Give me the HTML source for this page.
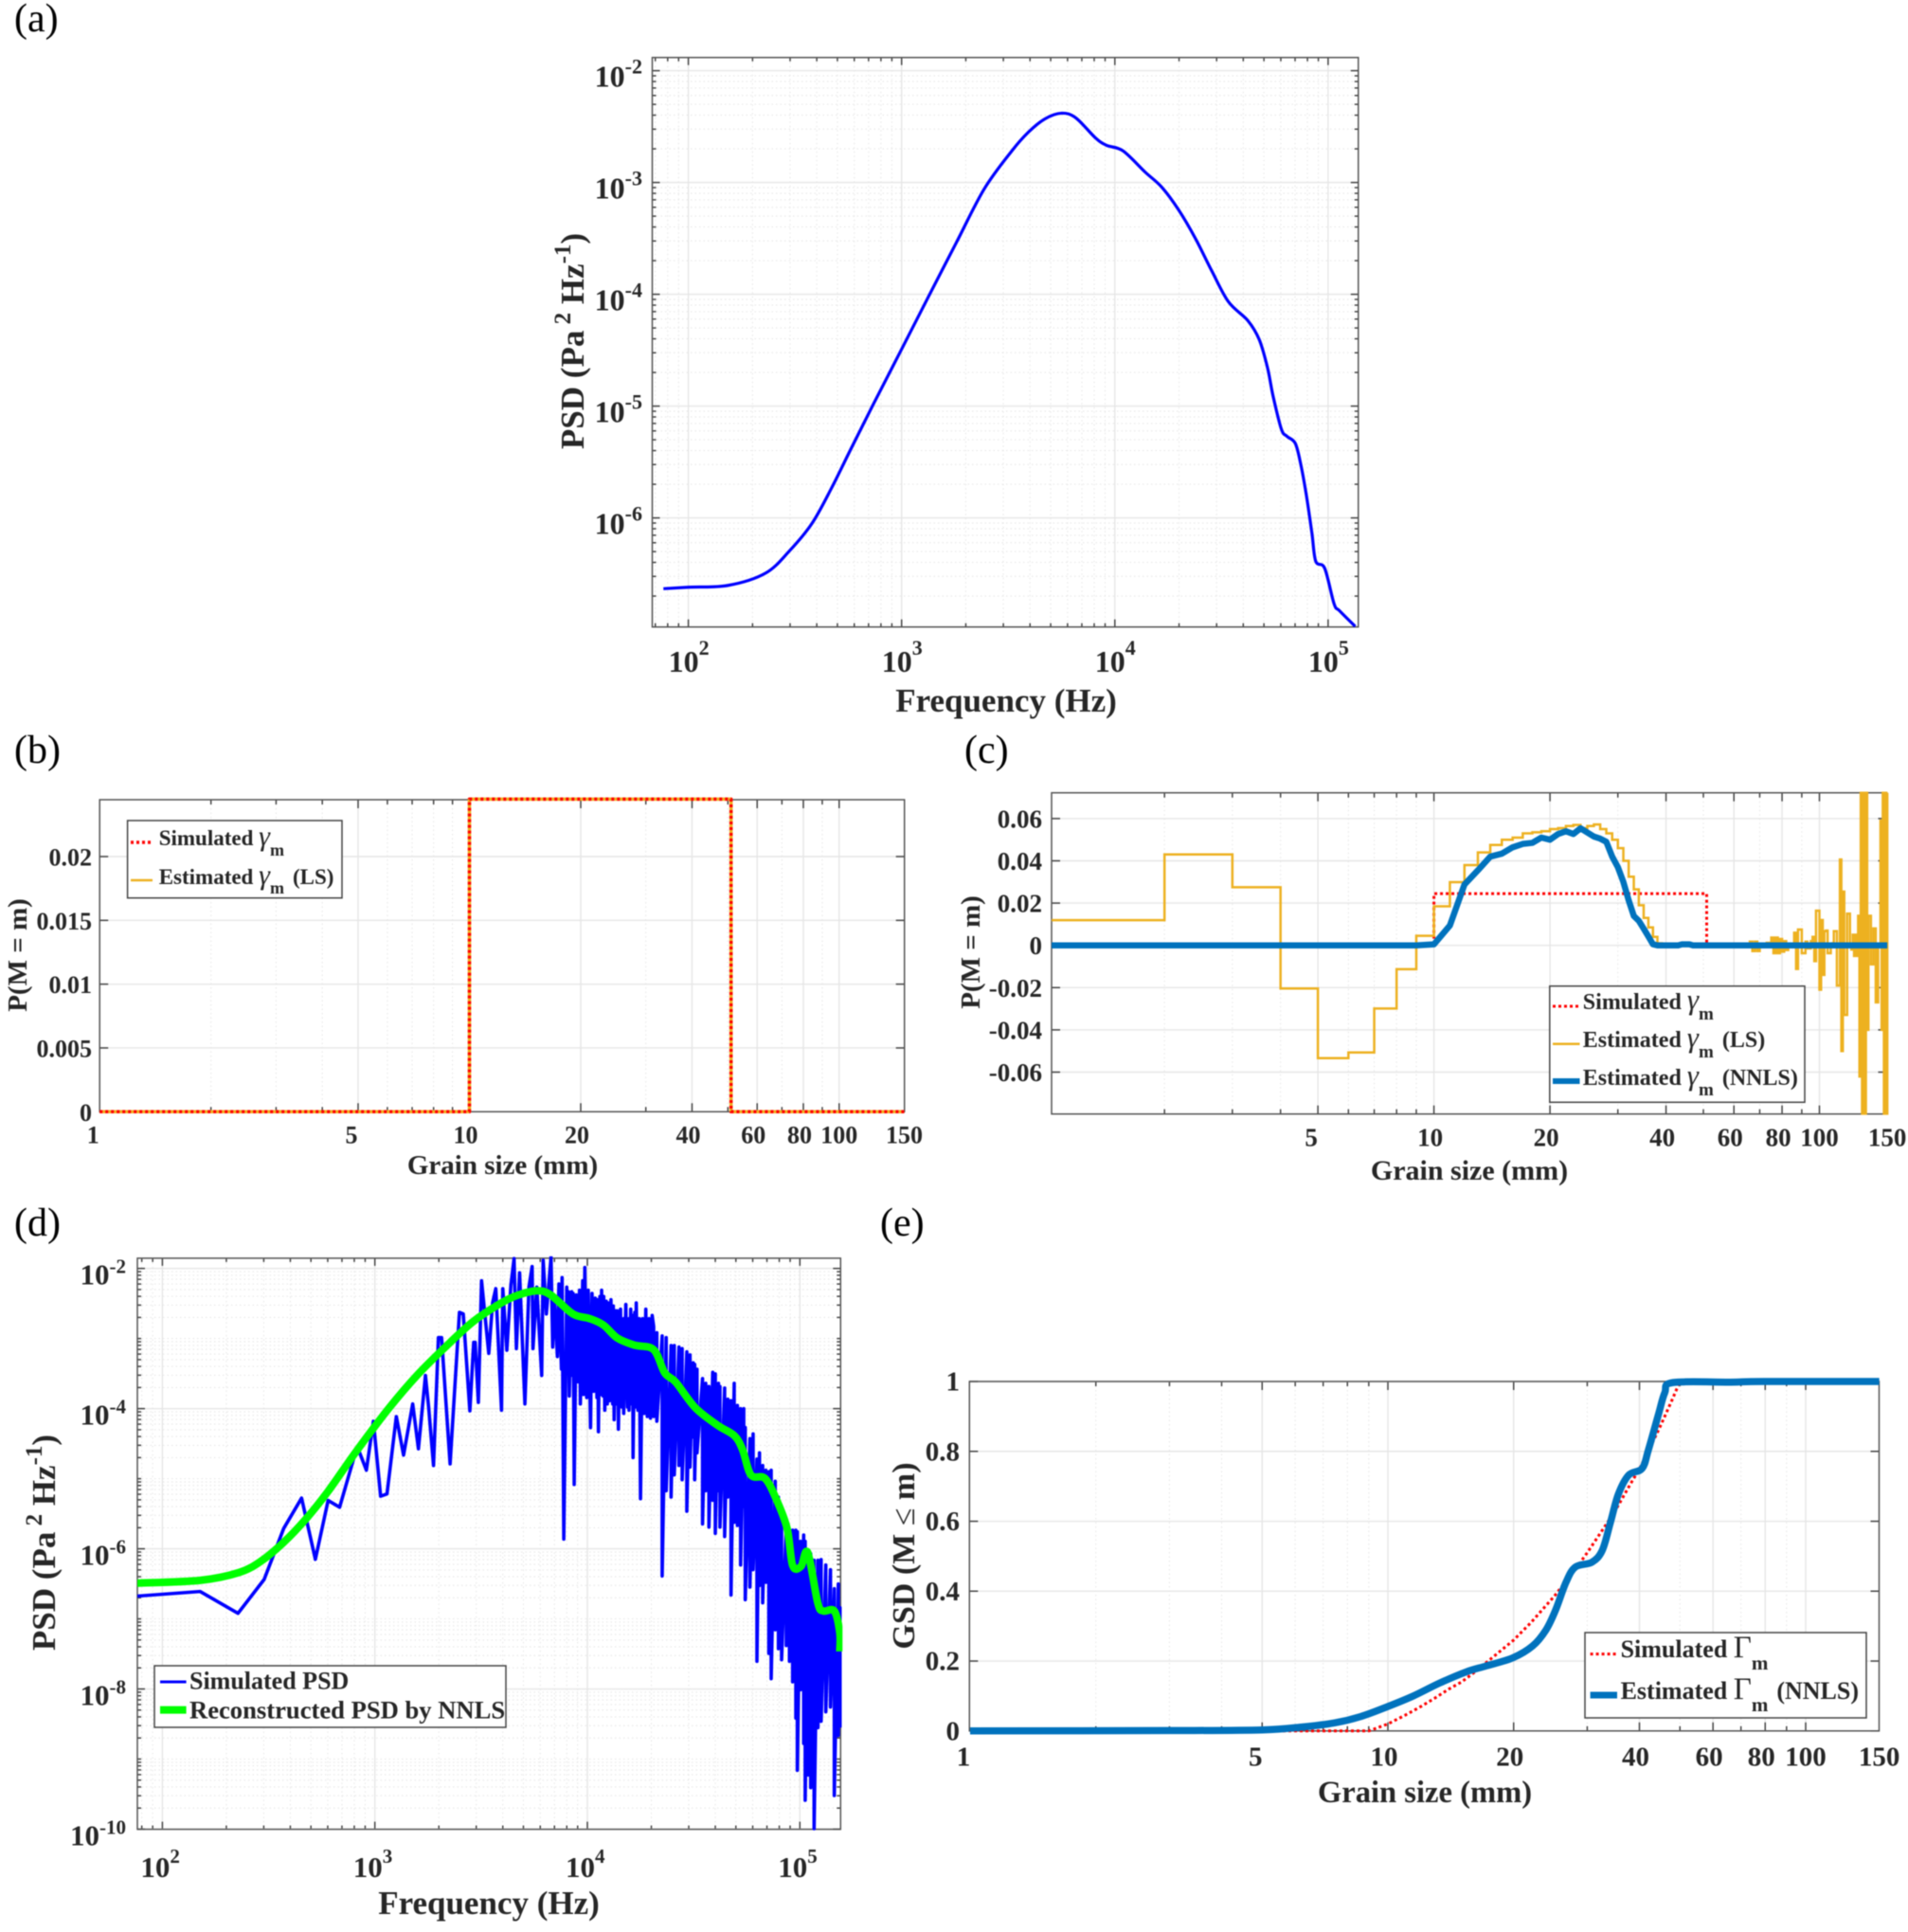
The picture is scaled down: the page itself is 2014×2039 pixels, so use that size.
<!DOCTYPE html>
<html lang="en">
<head>
<meta charset="utf-8">
<title>PSD and grain size distribution panels</title>
<style>
html,body{margin:0;padding:0;background:#fff;width:2014px;height:2039px;overflow:hidden}
svg{display:block;filter:blur(.65px)}
text{font-family:"Liberation Serif",serif;fill:#262626}
.b{font-weight:bold}
.tag{font-size:42px;fill:#000}
.g{font-style:italic;font-weight:normal}
</style>
</head>
<body>
<svg id="figure" xmlns="http://www.w3.org/2000/svg" width="2014" height="2039" viewBox="0 0 2014 2039">
<defs id="clip-defs"></defs>
<rect width="2014" height="2039" fill="#fff"></rect>
<g id="plots"></g>

<text class="tag" x="15" y="33">(a)</text>
<text class="tag" x="15" y="805">(b)</text>
<text class="tag" x="1018" y="805">(c)</text>
<text class="tag" x="15" y="1304">(d)</text>
<text class="tag" x="929" y="1304">(e)</text>

<text class="b" font-size="35" x="1062" y="751" text-anchor="middle">Frequency (Hz)</text>
<text class="b" font-size="35" x="616" y="360" text-anchor="middle" transform="rotate(-90 616 360)">PSD (Pa<tspan dy="-14" font-size="25"> 2</tspan><tspan dy="14"> Hz</tspan><tspan dy="-14" font-size="25">-1</tspan><tspan dy="14">)</tspan></text>

<text class="b" font-size="29" x="530.5" y="1239" text-anchor="middle">Grain size (mm)</text>
<text class="b" font-size="29" x="28" y="1008" text-anchor="middle" transform="rotate(-90 28 1008)">P(M = m)</text>

<text class="b" font-size="30" x="1551" y="1245" text-anchor="middle">Grain size (mm)</text>
<text class="b" font-size="29" x="1034" y="1005" text-anchor="middle" transform="rotate(-90 1034 1005)">P(M = m)</text>

<text class="b" font-size="35" x="516" y="2020" text-anchor="middle">Frequency (Hz)</text>
<text class="b" font-size="35" x="58" y="1628" text-anchor="middle" transform="rotate(-90 58 1628)">PSD (Pa<tspan dy="-14" font-size="25"> 2</tspan><tspan dy="14"> Hz</tspan><tspan dy="-14" font-size="25">-1</tspan><tspan dy="14">)</tspan></text>

<text class="b" font-size="32.6" x="1504" y="1902" text-anchor="middle">Grain size (mm)</text>
<text class="b" font-size="34" x="965" y="1642" text-anchor="middle" transform="rotate(-90 965 1642)">GSD (M <tspan font-weight="normal">≤</tspan> m)</text>

<g>
<rect x="134.6" y="866" width="226.4" height="81.7" fill="#fff" stroke="#444" stroke-width="1.5"></rect>
<line x1="138" x2="161" y1="889" y2="889" stroke="#ff0000" stroke-width="3.5" stroke-dasharray="3 3"></line>
<line x1="138" x2="161" y1="929" y2="929" stroke="#EDB120" stroke-width="2.5"></line>
<text class="b" font-size="23" x="167.7" y="892">Simulated <tspan class="g" font-size="30">γ</tspan><tspan dy="11" font-size="18">m</tspan></text>
<text class="b" font-size="23" x="167.7" y="933">Estimated <tspan class="g" font-size="30">γ</tspan><tspan dy="10" font-size="18">m</tspan><tspan dy="-10" dx="9">(LS)</tspan></text>
</g>

<g>
<rect x="1635.8" y="1040.7" width="269.2" height="122.6" fill="#fff" stroke="#444" stroke-width="1.5"></rect>
<line x1="1639" x2="1667.5" y1="1062" y2="1062" stroke="#ff0000" stroke-width="3" stroke-dasharray="3 3"></line>
<line x1="1639" x2="1667.5" y1="1101.7" y2="1101.7" stroke="#EDB120" stroke-width="2.5"></line>
<line x1="1639" x2="1667.5" y1="1141" y2="1141" stroke="#0072BD" stroke-width="6"></line>
<text class="b" font-size="24" x="1670.8" y="1065">Simulated <tspan class="g" font-size="31">γ</tspan><tspan dy="11" font-size="19">m</tspan></text>
<text class="b" font-size="24" x="1670.8" y="1105">Estimated <tspan class="g" font-size="31">γ</tspan><tspan dy="11" font-size="19">m</tspan><tspan dy="-11" dx="9">(LS)</tspan></text>
<text class="b" font-size="24" x="1670.8" y="1145">Estimated <tspan class="g" font-size="31">γ</tspan><tspan dy="11" font-size="19">m</tspan><tspan dy="-11" dx="9">(NNLS)</tspan></text>
</g>

<g>
<rect x="163" y="1758" width="371" height="65" fill="#fff" stroke="#444" stroke-width="1.5"></rect>
<line x1="169" x2="196.6" y1="1775" y2="1775" stroke="#0000ff" stroke-width="3"></line>
<line x1="169" x2="196.6" y1="1804.6" y2="1804.6" stroke="#00ff00" stroke-width="8"></line>
<text class="b" font-size="26" x="200" y="1782.5">Simulated PSD</text>
<text class="b" font-size="26.6" x="200" y="1813.4">Reconstructed PSD by NNLS</text>
</g>

<g>
<rect x="1673" y="1723" width="297" height="90" fill="#fff" stroke="#444" stroke-width="1.5"></rect>
<line x1="1678.6" x2="1707" y1="1745.6" y2="1745.6" stroke="#ff0000" stroke-width="3" stroke-dasharray="3 3"></line>
<line x1="1678.6" x2="1707" y1="1789" y2="1789" stroke="#0072BD" stroke-width="7"></line>
<text class="b" font-size="26" x="1710.6" y="1749">Simulated <tspan font-weight="normal" font-size="33">Γ</tspan><tspan dy="13" font-size="21">m</tspan></text>
<text class="b" font-size="26" x="1710.6" y="1793">Estimated <tspan font-weight="normal" font-size="33">Γ</tspan><tspan dy="13" font-size="21">m</tspan><tspan dy="-13" dx="9">(NNLS)</tspan></text>
</g>
</svg>

<script>
/* ---------- panel (a): log10 frequency / log10 PSD ---------- */
const aLogFreq = [1.883,2.0,2.188,2.362,2.474,2.579,2.670,2.761,2.865,2.996,3.126,3.256,3.387,3.517,3.595,3.673,3.751,3.817,3.908,3.960,4.038,4.142,4.220,4.299,4.377,4.455,4.533,4.624,4.677,4.716,4.742,4.781,4.807,4.846,4.872,4.898,4.924,4.942,4.984,5.028,5.054,5.127];
const aLogPsd = [-6.633,-6.620,-6.603,-6.494,-6.295,-6.051,-5.738,-5.388,-4.992,-4.506,-4.021,-3.54,-3.059,-2.717,-2.549,-2.430,-2.380,-2.422,-2.599,-2.667,-2.717,-2.907,-3.042,-3.245,-3.498,-3.793,-4.068,-4.236,-4.405,-4.658,-4.911,-5.207,-5.270,-5.333,-5.523,-5.797,-6.135,-6.388,-6.451,-6.768,-6.831,-6.970];
const aXExponents = [2,3,4,5];
const aYExponents = [-2,-3,-4,-5,-6];

/* ---------- panels (b),(c): grain size (mm) and probability ---------- */
const grainTickLabels = [1,5,10,20,40,60,80,100,150];
const grainMinorTicks = [2,3,4,6,7,8,9,30,50,70,90];
const bSizes = [1,10,10,51,51,150];
const bSimulated = [0,0,0.0245,0.0245,0,0];
const bEstimatedLS = [0,0,0.0245,0.0245,0,0];
const bYTicks = [0,0.005,0.01,0.015,0.02];
const cYTicks = [-0.06,-0.04,-0.02,0,0.02,0.04,0.06];
const cSimSizes = [1,10,10,51,51,150];
const cSimulated = [0,0,0.0245,0.0245,0,0];
/* one estimate per integer grain size, m = 1..150 */
const cEstimatedLS = [
 0.0119,0.043,0.0275,-0.0204,-0.0534,-0.0507,-0.0299,-0.0113,0.0045,0.0185,
 0.0299,0.038,0.044,0.0475,0.05,0.051,0.053,0.0535,0.054,0.055,
 0.0555,0.0565,0.057,0.0555,0.0565,0.0572,0.055,0.053,0.05,0.046,
 0.04,0.0325,0.0265,0.019,0.013,0.0085,0.004,0.001,0,0,
 0,0,0,0,0.0005,0.0005,0,0,0,0,
 0,0,0,0,0,0,0,0,0,0,
 0,0,0.0005,0,0,0.0018,-0.0027,0.0018,-0.0027,0,
 0.0008,-0.0005,0.0012,0.0008,0.0037,-0.0037,0.0037,-0.0037,0.003,-0.003,
 0.002,-0.0022,0.0004,0,0,0.006,-0.0112,0.0075,0.0075,-0.0037,
 -0.0037,0.0018,-0.0015,-0.0015,0.002,0.004,-0.0075,0.0164,0.0164,-0.021,
 0.012,-0.014,0.0067,0.007,-0.0037,-0.0037,0,0.001,0.0067,0.0067,
 -0.019,-0.019,0.0406,-0.05,0.0254,-0.0329,-0.0329,0.015,0.015,0,
 -0.002,0.005,-0.005,0.005,-0.005,0.014,-0.0621,0.0722,-0.0797,0.0722,
 -0.0797,0.0722,-0.04,0.014,0.014,-0.009,-0.009,0.008,0.008,-0.027,
 -0.027,0,0,0.059,-0.04,0.0722,-0.0797,0.0722,-0.0797,0.0722];
const cEstimatedNNLS = [
 0,0,0,0,0,0,0,0,0,0.0005,
 0.0094,0.0288,0.0355,0.042,0.0434,0.0464,0.048,0.0485,0.051,0.05,
 0.0527,0.054,0.0527,0.0554,0.0534,0.0515,0.0505,0.049,0.042,0.037,
 0.03,0.0213,0.0139,0.0116,0.0079,0.0042,0.0005,0,0,0,
 0,0,0,0.0005,0.0005,0.0005,0,0,0,0,
 0,0,0,0,0,0,0,0,0,0,
 0,0,0,0,0,0,0,0,0,0,
 0,0,0,0,0,0,0,0,0,0,
 0,0,0,0,0,0,0,0,0,0,
 0,0,0,0,0,0,0,0,0,0,
 0,0,0,0,0,0,0,0,0,0,
 0,0,0,0,0,0,0,0,0,0,
 0,0,0,0,0,0,0,0,0,0,
 0,0,0,0,0,0,0,0,0,0,
 0,0,0,0,0,0,0,0,0,0];

/* ---------- panel (d): log10 frequency / log10 PSD ---------- */
const dXExponents = [2,3,4,5];
const dYExponents = [-2,-4,-6,-8,-10];
const dSimLogFreq = [1.882,2.178,2.356,2.479,2.571,2.655,2.72,2.78,2.834,2.908,2.927,2.96,2.993,3.027,3.057,3.101,3.135,3.178,3.205,3.238,3.253,3.276,3.299,3.314,3.354,3.398,3.416,3.447,3.465,3.472,3.487,3.502,3.536,3.554,3.569,3.596,3.602,3.621,3.64,3.655,3.666,3.681,3.706,3.725,3.74,3.744,3.762,3.785,3.792,3.807,3.829,3.837,3.844,3.859,3.866,3.878,3.881,3.889,3.903,3.908,3.911,3.915,3.926,3.93,3.933,3.938,3.948,3.955,3.963,3.967,
 3.978,3.982,3.988,3.997,4.004,4.015,4.022,4.03,4.037,4.045,4.048,4.052,4.059,4.064,4.067,4.074,4.077,4.082,4.089,4.094,4.097,4.104,4.111,4.119,4.122,4.126,4.134,4.138,4.141,4.146,4.156,4.163,4.171,4.171,4.181,4.189,4.196,4.196,4.204,4.208,4.213,4.215,4.223,4.226,4.23,4.238,4.244,4.25,4.26,4.267,4.275,4.282,4.29,4.297,4.305,
 4.312,4.312,4.327,4.327,4.352,4.352,4.371,4.371,4.394,4.394,4.409,4.409,4.431,4.431,4.446,4.446,4.468,4.468,4.483,4.483,4.498,4.498,4.505,4.505,4.516,4.516,4.542,4.542,4.557,4.557,4.572,4.572,4.59,4.59,4.602,4.602,4.617,4.617,4.624,4.624,4.646,4.646,4.661,4.661,4.676,4.676,4.691,4.691,4.706,4.706,4.721,4.721,4.736,4.736,4.743,4.743,4.765,4.765,4.78,4.78,4.798,4.798,4.81,4.81,4.825,4.825,4.84,4.84,4.854,4.854,4.865,4.865,4.884,4.884,4.899,4.899,4.914,4.914,4.936,4.936,4.951,4.951,4.966,4.966,4.981,4.981,4.988,4.988,5.003,5.003,5.018,5.018,5.025,5.025,5.04,5.04,5.051,5.051,5.067,5.067,5.085,5.085,5.1,5.1,5.122,5.122,5.144,5.144,5.162,5.162,5.181,5.181,5.189,5.189];
const dSimLogPsd = [-6.675,-6.609,-6.92,-6.437,-5.709,-5.276,-6.15,-5.31,-5.407,-4.632,-4.618,-4.879,-4.181,-5.249,-5.217,-4.113,-4.663,-3.933,-4.573,-3.527,-3.978,-4.812,-2.987,-2.987,-4.789,-2.626,-2.649,-4.032,-3.054,-3.054,-3.911,-2.176,-3.212,-2.491,-2.288,-4.023,-2.288,-3.167,-2.243,-1.86,-3.144,-2.063,-3.933,-2.266,-1.973,-3.144,-2.266,-3.527,-1.883,-2.649,-1.838,-3.122,-2.401,-3.257,-2.221,-3.437,-2.13,-5.862,-2.266,-3.482,-2.333,-3.82,-2.333,-3.527,-2.356,-5.082,-2.378,-3.618,-2.311,-3.933,
 -2.176,-3.798,-1.986,-3.843,-2.311,-4.271,-2.356,-3.753,-2.423,-3.843,-2.446,-4.33,-2.401,-3.798,-2.311,-3.82,-2.401,-4.023,-2.468,-3.933,-2.491,-3.888,-2.446,-3.933,-2.536,-4.158,-2.604,-3.933,-2.604,-4.294,-2.581,-3.978,-2.716,-4.068,-2.513,-3.978,-2.716,-4.023,-2.581,-3.933,-2.671,-4.699,-2.626,-3.978,-2.491,-4.023,-2.716,-5.285,-2.716,-4.068,-2.581,-4.113,-2.716,-4.136,-2.671,
 -2.828,-4.113,-2.918,-4.18,-2.963,-6.388,-2.986,-5.172,-3.099,-5.262,-3.099,-4.946,-3.121,-4.811,-3.144,-5.014,-3.189,-5.465,-3.234,-4.834,-3.346,-4.405,-3.369,-5.014,-3.437,-4.631,-3.572,-5.645,-3.639,-5.172,-3.684,-5.69,-3.482,-5.307,-3.504,-5.78,-3.639,-5.172,-3.684,-5.69,-3.707,-5.825,-3.865,-5.262,-3.887,-6.659,-3.639,-5.622,-3.955,-5.667,-4.0,-6.231,-4.0,-5.397,-4.27,-6.726,-4.428,-6.546,-4.36,-6.298,-4.721,-7.605,-4.631,-6.524,-4.811,-6.771,-4.879,-6.479,-4.901,-7.492,-4.879,-7.853,-5.036,-7.155,-5.262,-7.425,-5.487,-7.583,-5.667,-7.38,-5.893,-7.605,-5.735,-7.898,-5.735,-8.416,-5.757,-9.16,-5.893,-8.011,-5.803,-8.777,-5.893,-9.588,-6.073,-9.227,-6.073,-9.408,-6.163,-9.993,-6.163,-8.551,-6.154,-8.461,-6.231,-8.326,-6.298,-8.258,-6.569,-9.52,-6.501,-8.664,-6.839,-8.551];
const dRecLogFreq = [1.882,2.178,2.361,2.466,2.571,2.675,2.78,2.911,3.068,3.199,3.33,3.461,3.592,3.67,3.762,3.827,3.932,4.01,4.076,4.141,4.22,4.312,4.364,4.416,4.508,4.613,4.691,4.73,4.77,4.835,4.887,4.94,4.966,5.005,5.037,5.084,5.11,5.162,5.188,5.188];
const dRecLogPsd = [-6.49,-6.45,-6.338,-6.172,-5.907,-5.576,-5.179,-4.616,-3.987,-3.523,-3.126,-2.762,-2.497,-2.384,-2.318,-2.377,-2.649,-2.715,-2.808,-2.993,-3.093,-3.159,-3.49,-3.623,-3.987,-4.238,-4.384,-4.583,-4.947,-4.993,-5.278,-5.709,-6.238,-6.252,-6.053,-6.768,-6.887,-6.887,-7.199,-7.464];

/* ---------- panel (e): grain size (mm) and cumulative GSD ---------- */
const eYTicks = [0,0.2,0.4,0.6,0.8,1];
const eSimSizes = [1,9,10,11,12,13,14,15,16,18,20,22,25,28,30,32,35,38,40,42,45,48,50,150];
const eSimulated = [0,0,0.02,0.045,0.07,0.095,0.12,0.14,0.165,0.215,0.26,0.31,0.385,0.46,0.51,0.56,0.63,0.705,0.75,0.8,0.875,0.95,1,1];
const eEstSizes = [1,3,5,6.2,7.45,8.6,10,11.5,13.3,15.4,17.2,19.9,22.2,23.9,25.2,26.7,28.1,30.8,32.6,34.1,35.6,37.7,40.6,42,44.4,46,48.1,66.2,79.4,150];
const eEstimated = [0,0.001,0.003,0.011,0.023,0.041,0.07,0.10,0.137,0.169,0.186,0.209,0.243,0.289,0.346,0.426,0.469,0.483,0.517,0.597,0.677,0.732,0.751,0.803,0.905,0.968,0.997,0.998,1,1];

/* ---------- drawing helpers ---------- */
const NS = 'http://www.w3.org/2000/svg';
const plots = document.getElementById('plots');
const clipDefs = document.getElementById('clip-defs');

function mk(tag, attrs, name, parent) {
  const el = document.createElementNS(NS, tag);
  for (const k in attrs) el.setAttribute(k, attrs[k]);
  
  
  (parent || plots).appendChild(el);
  return el;
}
function hLine(p, y, style, name, x1, x2) {
  mk('line', Object.assign({x1: x1 === undefined ? p.L : x1, x2: x2 === undefined ? p.R : x2, y1: y, y2: y}, style), name, p.g);
}
function vLine(p, x, style, name, y1, y2) {
  mk('line', Object.assign({x1: x, x2: x, y1: y1 === undefined ? p.T : y1, y2: y2 === undefined ? p.B : y2}, style), name, p.g);
}
const MAJOR = {stroke: '#e6e6e6', 'stroke-width': 1.4};
const MINOR = {stroke: '#e6e6e6', 'stroke-width': 1, 'stroke-dasharray': '1.5 3'};
const TICK = {stroke: '#444', 'stroke-width': 1.5};

function panel(id, L, R, T, B) {
  const g = mk('g', {}, 'panel-' + id);
  const clip = document.createElementNS(NS, 'clipPath');
  clip.setAttribute('id', 'clip-' + id);
  const r = document.createElementNS(NS, 'rect');
  r.setAttribute('x', L); r.setAttribute('y', T - 2);
  r.setAttribute('width', R - L + 2); r.setAttribute('height', B - T + 4);
  clip.appendChild(r);
  clipDefs.appendChild(clip);
  return {id, L, R, T, B, g};
}
function frame(p) {
  mk('rect', {x: p.L, y: p.T, width: p.R - p.L, height: p.B - p.T, fill: 'none', stroke: '#555', 'stroke-width': 1.5}, p.id + '-axes-box', p.g);
}
function series(p, xs, ys, style, name, noClip) {
  const pts = xs.map((x, i) => x.toFixed(2) + ',' + ys[i].toFixed(2)).join(' ');
  const attrs = Object.assign({points: pts, fill: 'none', 'stroke-linejoin': 'round'}, style);
  if (!noClip) attrs['clip-path'] = 'url(#clip-' + p.id + ')';
  mk('polyline', attrs, name, p.g);
}
/* smooth curve through the data points (Catmull-Rom converted to cubic Bezier) */
function smoothSeries(p, xs, ys, style, name, noClip) {
  let d = 'M' + xs[0].toFixed(2) + ' ' + ys[0].toFixed(2);
  for (let i = 0; i < xs.length - 1; i++) {
    const a = Math.max(i - 1, 0), b = Math.min(i + 2, xs.length - 1);
    const c1x = xs[i] + (xs[i + 1] - xs[a]) / 6, c1y = ys[i] + (ys[i + 1] - ys[a]) / 6;
    const c2x = xs[i + 1] - (xs[b] - xs[i]) / 6, c2y = ys[i + 1] - (ys[b] - ys[i]) / 6;
    d += 'C' + c1x.toFixed(2) + ' ' + c1y.toFixed(2) + ' ' + c2x.toFixed(2) + ' ' + c2y.toFixed(2) + ' ' + xs[i + 1].toFixed(2) + ' ' + ys[i + 1].toFixed(2);
  }
  const attrs = Object.assign({d: d, fill: 'none', 'stroke-linejoin': 'round'}, style);
  if (!noClip) attrs['clip-path'] = 'url(#clip-' + p.id + ')';
  mk('path', attrs, name, p.g);
}
function powerLabel(p, x, y, exp, size, expSize, rise, anchor, name) {
  const t = mk('text', {x: x, y: y, 'text-anchor': anchor, class: 'b', 'font-size': size}, name, p.g);
  t.appendChild(document.createTextNode('10'));
  const s = document.createElementNS(NS, 'tspan');
  s.setAttribute('dy', -rise);
  s.setAttribute('font-size', expSize);
  s.textContent = String(exp);
  t.appendChild(s);
}
function plainLabel(p, x, y, txt, size, anchor, name) {
  const t = mk('text', {x: x, y: y, 'text-anchor': anchor, class: 'b', 'font-size': size}, name, p.g);
  t.textContent = txt;
}

/* log-log PSD axes */
function psdAxes(p, fx, fy, xExps, yExps, xMin, xMax, yMin, yMax, o) {
  for (let d = Math.floor(xMin); d <= Math.ceil(xMax); d++) {
    for (let k = 2; k <= 9; k++) {
      const lv = d + Math.log10(k);
      if (lv > xMin && lv < xMax) {
        vLine(p, fx(lv), MINOR, p.id + '-x-minor-grid');
        vLine(p, fx(lv), TICK, p.id + '-x-minor-tick', p.B - 4, p.B);
        vLine(p, fx(lv), TICK, p.id + '-x-minor-tick', p.T, p.T + 4);
      }
    }
  }
  for (let d = Math.floor(yMin); d <= Math.ceil(yMax); d++) {
    for (let k = 1; k <= 9; k++) {
      const lv = d + Math.log10(k);
      if (lv > yMin && lv < yMax && !(k === 1 && yExps.includes(d))) {
        hLine(p, fy(lv), MINOR, p.id + '-y-minor-grid');
        hLine(p, fy(lv), TICK, p.id + '-y-minor-tick', p.L, p.L + 4);
        hLine(p, fy(lv), TICK, p.id + '-y-minor-tick', p.R - 4, p.R);
      }
    }
  }
  xExps.forEach(e => {
    const x = fx(e);
    vLine(p, x, MAJOR, p.id + '-x-major-grid');
    vLine(p, x, TICK, p.id + '-x-tick', p.B - 8, p.B);
    vLine(p, x, TICK, p.id + '-x-tick', p.T, p.T + 8);
    powerLabel(p, x - o.xShift, o.xBase, e, o.size, o.expSize, o.xRise, 'start', p.id + '-x-tick-label');
  });
  yExps.forEach(e => {
    const y = fy(e);
    hLine(p, y, MAJOR, p.id + '-y-major-grid');
    hLine(p, y, TICK, p.id + '-y-tick', p.L, p.L + 8);
    hLine(p, y, TICK, p.id + '-y-tick', p.R - 8, p.R);
    powerLabel(p, o.yRight, y + 17, e, o.size, o.expSize, o.yRise, 'end', p.id + '-y-tick-label');
  });
  frame(p);
}

/* grain-size axes (log x, linear y) */
function grainAxes(p, fx, fy, labels, yTicks, o) {
  grainMinorTicks.forEach(m => {
    vLine(p, fx(m), MINOR, p.id + '-x-minor-grid');
    vLine(p, fx(m), TICK, p.id + '-x-minor-tick', p.B - 5, p.B);
    vLine(p, fx(m), TICK, p.id + '-x-minor-tick', p.T, p.T + 5);
  });
  labels.forEach(m => {
    const x = fx(m);
    if (m !== 1 && m !== 150) {
      vLine(p, x, MAJOR, p.id + '-x-major-grid');
      vLine(p, x, TICK, p.id + '-x-tick', p.B - 9, p.B);
      vLine(p, x, TICK, p.id + '-x-tick', p.T, p.T + 9);
    }
    const off = m === 1 ? -7 : (m === 5 ? -7 : (m < 100 ? -4 : 0));
    plainLabel(p, x + off, o.xBase, String(m), o.size, 'middle', p.id + '-x-tick-label');
  });
  yTicks.forEach(v => {
    const y = fy(v);
    hLine(p, y, MAJOR, p.id + '-y-major-grid');
    hLine(p, y, TICK, p.id + '-y-tick', p.L, p.L + 9);
    hLine(p, y, TICK, p.id + '-y-tick', p.R - 9, p.R);
    plainLabel(p, o.yRight, y + 9.5, String(v), o.size, 'end', p.id + '-y-tick-label');
  });
  frame(p);
}
function stairs(sizes, values, fx, fy) {
  const xs = [], ys = [];
  sizes.forEach((m, i) => {
    xs.push(fx(m)); ys.push(fy(values[i]));
    if (i < sizes.length - 1) { xs.push(fx(sizes[i + 1])); ys.push(fy(values[i])); }
  });
  return {xs, ys};
}

/* ---------- panel a ---------- */
(function () {
  const p = panel('a', 688.5, 1433.8, 60.7, 661.7);
  const fx = v => 726.6 + (v - 2) * 225.1;
  const fy = v => 74.6 + (-2 - v) * 118;
  psdAxes(p, fx, fy, aXExponents, aYExponents, 1.83, 5.16, -6.98, -1.88,
    {size: 32, expSize: 22, xBase: 709, xRise: 18, xShift: 21, yRight: 678, yRise: 14});
  smoothSeries(p, aLogFreq.map(fx), aLogPsd.map(fy), {stroke: '#0000ff', 'stroke-width': 3.2}, 'a-simulated-psd-line');
})();

/* ---------- panel b ---------- */
(function () {
  const p = panel('b', 105.2, 954.7, 844, 1173.3);
  const fx = m => 105.2 + 390.3 * Math.log10(m);
  const fy = v => 1173.3 - v * 13465;
  grainAxes(p, fx, fy, grainTickLabels, bYTicks, {size: 26, xBase: 1206.7, yRight: 97});
  series(p, bSizes.map(fx), bEstimatedLS.map(fy), {stroke: '#EDB120', 'stroke-width': 3.5}, 'b-estimated-ls-line', true);
  series(p, bSizes.map(fx), bSimulated.map(fy), {stroke: '#ff0000', 'stroke-width': 3.5, 'stroke-dasharray': '3 3'}, 'b-simulated-line', true);
})();

/* ---------- panel c ---------- */
(function () {
  const p = panel('c', 1110, 1991.5, 836.7, 1175.7);
  const fx = m => 1106.7 + 406.9 * Math.log10(m);
  const fy = v => 997.7 - v * 2230;
  grainAxes(p, fx, fy, grainTickLabels.slice(1), cYTicks, {size: 27, xBase: 1209.3, yRight: 1100});
  const sizes = cEstimatedLS.map((v, i) => i + 1);
  const st = stairs(sizes, cEstimatedLS, fx, fy);
  series(p, cSimSizes.map(fx), cSimulated.map(fy), {stroke: '#ff0000', 'stroke-width': 3, 'stroke-dasharray': '3 3'}, 'c-simulated-line');
  series(p, st.xs, st.ys, {stroke: '#EDB120', 'stroke-width': 2.5, 'stroke-linejoin': 'miter'}, 'c-estimated-ls-line');
  series(p, sizes.map(fx), cEstimatedNNLS.map(fy), {stroke: '#0072BD', 'stroke-width': 6.5}, 'c-estimated-nnls-line');
})();

/* ---------- panel d ---------- */
(function () {
  const p = panel('d', 145, 887.3, 1327.9, 1930.6);
  const fx = v => 171.4 + (v - 2) * 224.3;
  const fy = v => 1338.7 + (-2 - v) * 73.97;
  psdAxes(p, fx, fy, dXExponents, dYExponents, 1.882, 5.19, -10, -1.855,
    {size: 31, expSize: 21, xBase: 1981, xRise: 15, xShift: 23, yRight: 133, yRise: 12});
  series(p, dSimLogFreq.map(fx), dSimLogPsd.map(fy), {stroke: '#0000ff', 'stroke-width': 3.6}, 'd-simulated-psd-line');
  smoothSeries(p, dRecLogFreq.map(fx), dRecLogPsd.map(fy), {stroke: '#00ff00', 'stroke-width': 8}, 'd-reconstructed-psd-line');
})();

/* ---------- panel e ---------- */
(function () {
  const p = panel('e', 1023.3, 1983.5, 1458, 1826.8);
  const fx = m => 1024 + 441 * Math.log10(m);
  const fy = v => 1826.8 - v * 368.8;
  grainAxes(p, fx, fy, grainTickLabels, eYTicks, {size: 29, xBase: 1863.4, yRight: 1013});
  series(p, eSimSizes.map(fx), eSimulated.map(fy), {stroke: '#ff0000', 'stroke-width': 3, 'stroke-dasharray': '3 3'}, 'e-simulated-line');
  smoothSeries(p, eEstSizes.map(fx), eEstimated.map(fy), {stroke: '#0072BD', 'stroke-width': 7.5}, 'e-estimated-line', true);
})();
</script>
</body>
</html>
